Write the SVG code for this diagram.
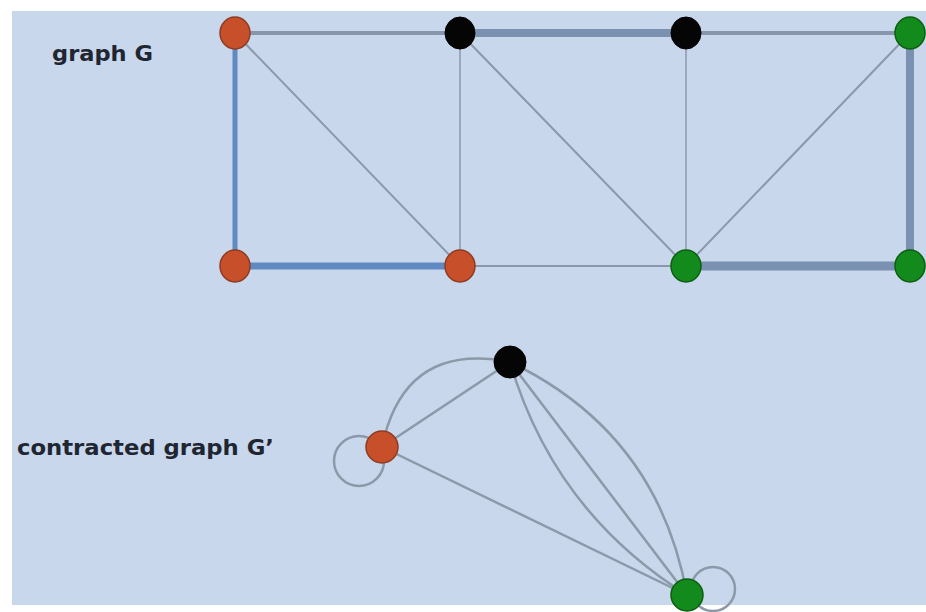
<svg xmlns="http://www.w3.org/2000/svg" width="926" height="612" viewBox="0 0 926 612">
<style>
.lbl{font-family:"DejaVu Sans","Noto Sans",sans-serif;font-weight:bold;font-size:21px;fill:#1f2631}
.e{fill:none;stroke-linecap:round}
.thin{stroke:#8b98a9;stroke-width:2}
.hair{stroke:#8d99a8;stroke-width:1.5}
.gray{stroke:#8797ab;stroke-width:4}
.blue{stroke:#6189c2}
.steel{stroke:#7a91b2}
.c{fill:none;stroke:#8c99a9;stroke-width:2.5}
.red{fill:#c7502b;stroke:#8e3b22;stroke-width:1.5}
.blk{fill:#050505;stroke:#000;stroke-width:1}
.grn{fill:#138a1c;stroke:#0c5e12;stroke-width:1.5}
</style>
<rect x="0" y="0" width="926" height="612" fill="#ffffff"/>
<rect x="12" y="11" width="914" height="594" fill="#c8d7ec"/>
<text class="lbl" x="52" y="61" textLength="101" lengthAdjust="spacingAndGlyphs">graph G</text>
<text class="lbl" x="17" y="455" textLength="257" lengthAdjust="spacingAndGlyphs">contracted graph G’</text>
<g id="connectors">
<line class="e gray" x1="235" y1="33" x2="460" y2="33"/>
<line class="e steel" stroke-width="8" x1="460" y1="33" x2="686" y2="33"/>
<line class="e gray" x1="686" y1="33" x2="910" y2="33"/>
<line class="e blue" stroke-width="5" x1="235" y1="33" x2="235" y2="266"/>
<line class="e blue" stroke-width="7" x1="235" y1="266" x2="460" y2="266"/>
<line class="e thin" x1="460" y1="266" x2="686" y2="266"/>
<line class="e steel" stroke-width="9" x1="686" y1="266" x2="910" y2="266"/>
<line class="e steel" stroke-width="8" x1="910" y1="33" x2="910" y2="266"/>
<line class="e thin" x1="235" y1="33" x2="460" y2="266"/>
<line class="e hair" x1="460" y1="33" x2="460" y2="266"/>
<line class="e thin" x1="460" y1="33" x2="686" y2="266"/>
<line class="e hair" x1="686" y1="33" x2="686" y2="266"/>
<line class="e thin" x1="910" y1="33" x2="686" y2="266"/>
<line class="c" x1="382" y1="447" x2="510" y2="362"/>
<path class="c" d="M382,447 Q404,341 510,362"/>
<line class="c" x1="382" y1="447" x2="687" y2="595"/>
<path class="c" d="M510,362 Q554,512 687,595"/>
<line class="c" x1="510" y1="362" x2="687" y2="595"/>
<path class="c" d="M510,362 Q658,433 687,595"/>
<circle class="c" cx="359" cy="461" r="25"/>
<circle class="c" cx="713" cy="589" r="22"/>
</g>
<g id="n1"><ellipse class="red" cx="235" cy="33" rx="15" ry="16"/></g>
<g id="n2"><ellipse class="blk" cx="460" cy="33" rx="15" ry="16"/></g>
<g id="n3"><ellipse class="blk" cx="686" cy="33" rx="15" ry="16"/></g>
<g id="n4"><ellipse class="grn" cx="910" cy="33" rx="15" ry="16"/></g>
<g id="n5"><ellipse class="red" cx="235" cy="266" rx="15" ry="16"/></g>
<g id="n6"><ellipse class="red" cx="460" cy="266" rx="15" ry="16"/></g>
<g id="n7"><ellipse class="grn" cx="686" cy="266" rx="15" ry="16"/></g>
<g id="n8"><ellipse class="grn" cx="910" cy="266" rx="15" ry="16"/></g>
<g id="c1"><circle class="blk" cx="510" cy="362" r="16"/></g>
<g id="c2"><circle class="red" cx="382" cy="447" r="16"/></g>
<g id="c3"><circle class="grn" cx="687" cy="595" r="16"/></g>
</svg>
